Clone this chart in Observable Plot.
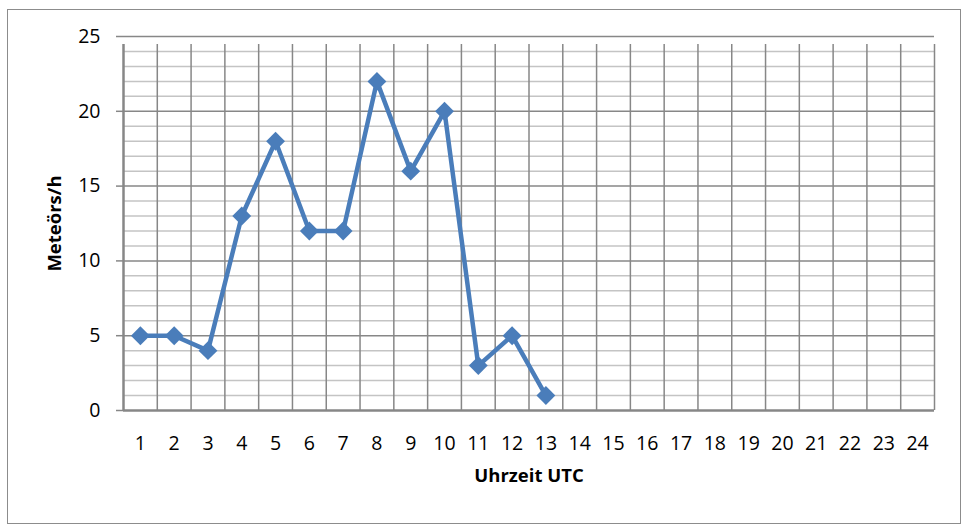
<!DOCTYPE html>
<html>
<head>
<meta charset="utf-8">
<script src="https://cdn.jsdelivr.net/npm/d3@7"></script>
<script src="https://cdn.jsdelivr.net/npm/@observablehq/plot@0.6"></script>
<style>
  html, body { margin: 0; padding: 0; background: #fff; }
  #wrap { position: relative; width: 968px; height: 530px; }
  #frame { position: absolute; left: 7px; top: 9px; width: 952px; height: 513px; border: 1.5px solid #8c8c8c; pointer-events: none; }
</style>
</head>
<body>
<div id="wrap"><div id="frame"></div></div>
<script>
const hours = d3.range(1, 25);
const observedHours = [1, 2, 3, 4, 5, 6, 7, 8, 9, 10, 11, 12, 13];
const meteorsPerHour = [5, 5, 4, 13, 18, 12, 12, 22, 16, 20, 3, 5, 1];
const yMajorTicks = [0, 5, 10, 15, 20, 25];
const yMinorTicks = d3.range(1, 25).filter(v => v % 5 !== 0);
const categoryBoundaries = d3.range(0, 25).map(i => i + 0.5);

const data = observedHours.map((h, i) => ({hour: h, count: meteorsPerHour[i]}));

const blue = "#4a7dba";
const gridDark = "#878787";
const gridLight = "#c4c4c4";

const chart = Plot.plot({
  width: 968,
  height: 530,
  marginLeft: 123,
  marginRight: 34,
  marginTop: 36,
  marginBottom: 120,
  x: {domain: [0.5, 24.5], axis: null},
  y: {domain: [0, 25], axis: null},
  style: {fontFamily: "'Open Sans', 'DejaVu Sans', sans-serif", background: "transparent", color: "#000"},
  marks: [
    Plot.ruleY(yMinorTicks, {stroke: gridLight, strokeWidth: 1.5}),
    Plot.ruleY(yMajorTicks.filter(v => v > 0), {stroke: gridDark, strokeWidth: 1.5}),
    Plot.ruleX(categoryBoundaries.slice(1), {y1: 0, y2: 25, insetBottom: -8, stroke: gridDark, strokeWidth: 1.5}),
    Plot.ruleX(categoryBoundaries.slice(0, 1), {y1: 0, y2: 25, insetBottom: -8, stroke: gridDark, strokeWidth: 2.5}),
    Plot.ruleY([0], {stroke: gridDark, strokeWidth: 2.5}),
    Plot.axisY({ticks: yMajorTicks, tickSize: 7, tickPadding: 16, fontSize: 19.5, stroke: gridDark, strokeWidth: 1.5, tickFormat: d => String(d), label: null}),
    Plot.axisX({ticks: hours, tickSize: 0, tickPadding: 26, fontSize: 19.5, tickFormat: d => String(d), label: null}),
    Plot.line(data, {x: "hour", y: "count", stroke: blue, strokeWidth: 4.5, strokeLinejoin: "round"}),
    Plot.dot(data, {x: "hour", y: "count", symbol: "diamond2", r: 8.5, fill: blue, stroke: "none"}),
    Plot.text(["Meteörs/h"], {frameAnchor: "left", dx: -68, rotate: -90, text: d => d, fontSize: 18.5, fontWeight: "bold", textAnchor: "middle", fill: "#000"}),
    Plot.text(["Uhrzeit UTC"], {frameAnchor: "bottom", dy: 71, text: d => d, fontSize: 18.5, fontWeight: "bold", textAnchor: "middle", fill: "#000"})
  ]
});
document.getElementById("wrap").prepend(chart);
</script>
</body>
</html>
